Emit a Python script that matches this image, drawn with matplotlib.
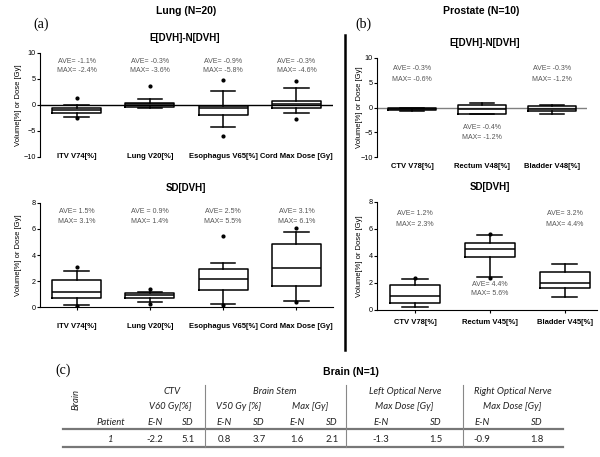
import matplotlib
matplotlib.use('Agg')
import matplotlib.pyplot as plt
from matplotlib.transforms import blended_transform_factory

plt.rcParams['font.family'] = ['Liberation Sans', 'DejaVu Sans']

# ---- data ----
lung_cats = ['ITV V74[%]', 'Lung V20[%]', 'Esophagus V65[%]', 'Cord Max Dose [Gy]']
lung_en_med = [-1.0, 0.1, -0.65, 0.1]
lung_en_q1 = [-1.6, -0.33, -1.9, -0.6]
lung_en_q3 = [-0.6, 0.44, -0.1, 0.85]
lung_en_lo = [-2.3, -0.63, -4.3, -1.5]
lung_en_hi = [0.0, 1.1, 2.6, 3.2]
lung_en_fl = [[1.3, -2.5], [3.6], [4.9, -5.9], [4.6, -2.6]]
lung_en_ave = ['AVE= -1.1%', 'AVE= -0.3%', 'AVE= -0.9%', 'AVE= -0.3%']
lung_en_max = ['MAX= -2.4%', 'MAX= -3.6%', 'MAX= -5.8%', 'MAX= -4.6%']

lung_sd_med = [1.12, 0.89, 2.15, 3.02]
lung_sd_q1 = [0.66, 0.71, 1.33, 1.64]
lung_sd_q3 = [2.05, 1.1, 2.92, 4.87]
lung_sd_lo = [0.18, 0.38, 0.2, 0.43]
lung_sd_hi = [2.77, 1.18, 3.38, 5.77]
lung_sd_fl = [[3.1, 0.1], [1.4, 0.25], [5.5, 0.15], [6.1, 0.35]]
lung_sd_ave = ['AVE= 1.5%', 'AVE = 0.9%', 'AVE= 2.5%', 'AVE= 3.1%']
lung_sd_max = ['MAX= 3.1%', 'MAX= 1.4%', 'MAX= 5.5%', 'MAX= 6.1%']

pro_en_cats = ['CTV V78[%]', 'Rectum V48[%]', 'Bladder V48[%]']
pro_en_med = [-0.3, -0.4, -0.3]
pro_en_q1 = [-0.55, -1.25, -0.8]
pro_en_q3 = [-0.1, 0.55, 0.3]
pro_en_lo = [-0.65, -1.3, -1.3]
pro_en_hi = [-0.05, 0.9, 0.5]
pro_en_fl = [[], [], []]
pro_en_ave = ['AVE= -0.3%', 'AVE= -0.4%', 'AVE= -0.3%']
pro_en_max = ['MAX= -0.6%', 'MAX= -1.2%', 'MAX= -1.2%']

pro_sd_cats = ['CTV V78[%]', 'Rectum V45[%]', 'Bladder V45[%]']
pro_sd_med = [1.04, 4.49, 2.02]
pro_sd_q1 = [0.49, 3.95, 1.65]
pro_sd_q3 = [1.85, 4.94, 2.84]
pro_sd_lo = [0.22, 2.47, 0.94]
pro_sd_hi = [2.3, 5.56, 3.41]
pro_sd_fl = [[2.35], [5.65, 2.4], []]
pro_sd_ave = ['AVE= 1.2%', 'AVE= 4.4%', 'AVE= 3.2%']
pro_sd_max = ['MAX= 2.3%', 'MAX= 5.6%', 'MAX= 4.4%']

brain_groups = ['CTV', 'Brain Stem', 'Left Optical Nerve', 'Right Optical Nerve']
brain_metrics = ['V60 Gy[%]', 'V50 Gy [%]', 'Max [Gy]', 'Max Dose [Gy]', 'Max Dose [Gy]']
brain_cols = ['E-N', 'SD'] * 5
brain_patient = '1'
brain_values = [-2.2, 5.1, 0.8, 3.7, 1.6, 2.1, -1.3, 1.5, -0.9, 1.8]

# ---- layout helpers (pixel based) ----
W, H = 600, 457

def rect(l, t, r, b):
    return [l / W, 1 - b / H, (r - l) / W, (b - t) / H]

def ftext(x, y, s, **kw):
    fig.text(x / W, 1 - y / H, s, ha='center', va='center', **kw)

def boxes(ax, med, q1, q3, lo, hi, fl, width):
    stats = []
    for i in range(len(med)):
        stats.append(dict(med=med[i], q1=q1[i], q3=q3[i],
                          whislo=lo[i], whishi=hi[i], fliers=fl[i]))
    lp = dict(color='black', linewidth=1.1)
    ax.bxp(stats, positions=range(1, len(med) + 1), widths=width,
           boxprops=lp, medianprops=lp, whiskerprops=lp, capprops=lp,
           flierprops=dict(marker='o', markerfacecolor='black',
                           markeredgecolor='black', markersize=2),
           zorder=3)

def annotate(ax, ave, mx, ys):
    tr = blended_transform_factory(ax.transData, ax.transAxes)
    for i in range(len(ave)):
        ax.text(i + 1, ys[i][0], ave[i], transform=tr, ha='center', va='center',
                fontsize=5, color='#555555')
        ax.text(i + 1, ys[i][1], mx[i], transform=tr, ha='center', va='center',
                fontsize=5, color='#555555')

def style(ax, cats, ylim, yticks, bottom, pad, labx):
    ax.set_ylim(*ylim)
    ax.set_yticks(yticks)
    ax.spines['top'].set_visible(False)
    ax.spines['right'].set_visible(False)
    ax.spines['left'].set_linewidth(0.8)
    ax.spines['bottom'].set_linewidth(0.8)
    ax.spines['bottom'].set_visible(bottom)
    ax.set_xticks(range(1, len(cats) + 1))
    ax.set_xticklabels(cats, fontweight='bold', fontsize=5.5)
    ax.tick_params(axis='y', labelsize=5.2, length=2, width=0.8, pad=1)
    ax.tick_params(axis='x', length=2 if bottom else 0, width=0.8, pad=pad)
    ax.set_ylabel('Volume[%] or Dose [Gy]', fontsize=5.5)
    ax.yaxis.set_label_coords(labx, 0.5)
    ax.patch.set_alpha(0)

fig = plt.figure(figsize=(6, 4.57), dpi=100)

# ---- (a) lung ----
ax1 = fig.add_axes(rect(40, 53, 333, 157))
ax1.axhline(0, color='black', linewidth=1, zorder=2)
boxes(ax1, lung_en_med, lung_en_q1, lung_en_q3, lung_en_lo, lung_en_hi, lung_en_fl, 0.67)
ax1.set_xlim(0.5, 4.5)
style(ax1, lung_cats, (-10, 10), [-10, -5, 0, 5, 10], False, -2.9, -0.062)
annotate(ax1, lung_en_ave, lung_en_max, [(0.923, 0.827)] * 4)

ax2 = fig.add_axes(rect(40, 203, 333, 307))
boxes(ax2, lung_sd_med, lung_sd_q1, lung_sd_q3, lung_sd_lo, lung_sd_hi, lung_sd_fl, 0.67)
ax2.set_xlim(0.5, 4.5)
style(ax2, lung_cats, (0, 8), [0, 2, 4, 6, 8], True, 9.5, -0.062)
annotate(ax2, lung_sd_ave, lung_sd_max, [(0.919, 0.823)] * 4)

# ---- (b) prostate ----
ax3 = fig.add_axes(rect(377, 57.7, 587, 157.3))
ax3.axhline(0, color='#808080', linewidth=1, zorder=2)
boxes(ax3, pro_en_med, pro_en_q1, pro_en_q3, pro_en_lo, pro_en_hi, pro_en_fl, 0.69)
ax3.set_xlim(0.5, 3.5)
style(ax3, pro_en_cats, (-10, 10), [-10, -5, 0, 5, 10], False, 4, -0.067)
annotate(ax3, pro_en_ave, pro_en_max, [(0.894, 0.786), (0.297, 0.2), (0.894, 0.786)])

ax4 = fig.add_axes(rect(377, 201.7, 597, 310))
boxes(ax4, pro_sd_med, pro_sd_q1, pro_sd_q3, pro_sd_lo, pro_sd_hi, pro_sd_fl, 0.67)
ax4.set_xlim(0.493, 3.43)
style(ax4, pro_sd_cats, (0, 8), [0, 2, 4, 6, 8], True, 4.5, -0.064)
annotate(ax4, pro_sd_ave, pro_sd_max, [(0.893, 0.794), (0.24, 0.148), (0.893, 0.794)])

# ---- titles ----
ftext(186, 11, 'Lung (N=20)', fontsize=7.5, fontweight='bold')
ftext(481, 11, 'Prostate (N=10)', fontsize=7.5, fontweight='bold')
ftext(185, 38, 'E[DVH]-N[DVH]', fontsize=7, fontweight='bold')
ftext(186, 188, 'SD[DVH]', fontsize=7, fontweight='bold')
ftext(485, 43, 'E[DVH]-N[DVH]', fontsize=7, fontweight='bold')
ftext(490, 187, 'SD[DVH]', fontsize=7, fontweight='bold')
ftext(41, 24, '(a)', fontsize=10, family='Liberation Serif')
ftext(363, 24, '(b)', fontsize=10, family='Liberation Serif')
ftext(63, 370, '(c)', fontsize=10, family='Liberation Serif')
ftext(351, 372, 'Brain (N=1)', fontsize=7.5, fontweight='bold')

# ---- overlay for separator and table ----
ov = fig.add_axes([0, 0, 1, 1], zorder=-1)
ov.set_xlim(0, W)
ov.set_ylim(H, 0)
ov.axis('off')
ov.plot([345, 345], [35, 350], color='black', linewidth=1.8)

tfont = dict(family=['Lato', 'DejaVu Sans'], style='italic', fontsize=6.8, color='#222222',
             ha='center', va='center')
group_x = [172, 275, 405, 513]
metric_x = [170, 239, 310, 404, 512]
col_x = [155, 188, 224, 259, 297, 332, 381, 436, 482, 537]
for g, x in zip(brain_groups, group_x):
    ov.text(x, 391.7, g, **tfont)
for m, x in zip(brain_metrics, metric_x):
    ov.text(x, 406.7, m, **tfont)
ov.text(111, 422.7, 'Patient', **tfont)
for c, x in zip(brain_cols, col_x):
    ov.text(x, 422.7, c, **tfont)
ov.text(110, 439.3, brain_patient, **tfont)
for v, x in zip(brain_values, col_x):
    ov.text(x, 439.3, f'{v:.1f}', **dict(tfont, style='normal'))
ov.text(76, 400, 'Brain', rotation=90, **tfont)
for y in [429, 446.7]:
    ov.plot([63, 563], [y, y], color='#777777', linewidth=1.6)
for x in [205, 346, 463]:
    ov.plot([x, x], [385, 446.7], color='#888888', linewidth=0.8)

fig.savefig('out.png', dpi=100)
